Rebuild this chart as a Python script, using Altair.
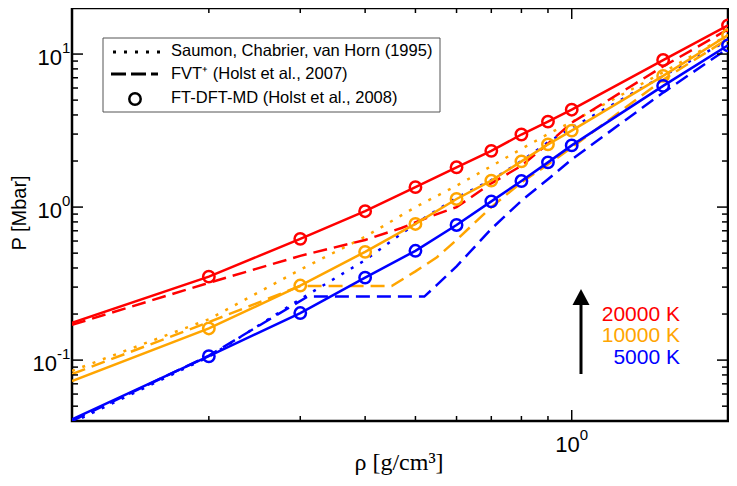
import altair as alt
import pandas as pd

W, H = 656, 413
PAD_L = 64
X_DOMAIN = [0.109, 2.0]
Y_DOMAIN = [0.04, 20.0]

temps = ["20000 K", "10000 K", "5000 K"]
temp_colors = ["#ff0000", "#ffa500", "#0000ff"]

# FT-DFT-MD (open circles joined by solid lines)
rho_dft = [0.2, 0.3, 0.4, 0.5, 0.6, 0.7, 0.8, 0.9, 1.0, 1.5, 2.0]
p_dft_20000 = [0.351, 0.62, 0.94, 1.35, 1.82, 2.33, 2.98, 3.62, 4.33, 9.14, 15.4]
p_dft_10000 = [0.161, 0.307, 0.51, 0.776, 1.13, 1.49, 1.99, 2.57, 3.16, 7.2, 13.3]
p_dft_5000 = [0.106, 0.203, 0.346, 0.518, 0.764, 1.09, 1.48, 1.96, 2.53, 6.2, 11.4]
# solid lines continue to the left edge
rho_left = 0.109
p_left = [0.175, 0.073, 0.041]

# FVT+ (dashed)
rho_fvt_20000 = [0.109, 0.2, 0.3, 0.4, 0.47, 0.53, 0.6, 0.7, 0.8, 0.9, 1.0, 1.5, 2.0]
p_fvt_20000 = [0.17, 0.32, 0.48, 0.61, 0.73, 0.86, 1.0, 1.43, 1.86, 2.6, 3.56, 8.3, 14.5]
rho_fvt_10000 = [0.109, 0.2, 0.3, 0.45, 0.5, 0.55, 0.6, 0.7, 0.8, 0.9, 1.0, 1.5, 2.0]
p_fvt_10000 = [0.081, 0.177, 0.305, 0.305, 0.38, 0.47, 0.61, 1.0, 1.45, 1.9, 2.45, 6.8, 12.6]
rho_fvt_5000 = [0.109, 0.2, 0.31, 0.52, 0.55, 0.6, 0.7, 0.8, 0.9, 1.0, 1.5, 2.0]
p_fvt_5000 = [0.040, 0.107, 0.26, 0.26, 0.31, 0.41, 0.72, 1.1, 1.52, 2.05, 5.6, 10.9]

# Saumon, Chabrier, van Horn (dotted)
rho_scvh = [0.109, 0.2, 0.3, 0.4, 0.5, 0.6, 0.7, 0.8, 0.9, 1.0, 1.5, 2.0]
p_scvh_10000 = [0.085, 0.185, 0.39, 0.64, 1.0, 1.38, 1.85, 2.4, 3.0, 3.6, 7.6, 13.3]
p_scvh_5000 = [0.039, 0.105, 0.25, 0.45, 0.78, 1.15, 1.5, 2.0, 2.65, 3.3, 7.2, 12.3]

# axis ticks
x_minor_ticks = [0.2, 0.3, 0.4, 0.5, 0.6, 0.7, 0.8, 0.9]
x_major_ticks = [1.0]
y_minor_ticks = [0.05, 0.06, 0.07, 0.08, 0.09, 0.2, 0.3, 0.4, 0.5, 0.6, 0.7, 0.8, 0.9,
                 2, 3, 4, 5, 6, 7, 8, 9]
y_major_ticks = [0.1, 1.0, 10.0]

legend_labels = ["Saumon, Chabrier, van Horn (1995)",
                 "FVT\u207a (Holst et al., 2007)",
                 "FT-DFT-MD (Holst et al., 2008)"]

FONT = "Liberation Sans"


def frame(rhos, ps, t):
    return pd.DataFrame({"rho": rhos, "P": ps, "T": t})


dft_df = pd.concat([frame(rho_dft, p_dft_20000, temps[0]),
                    frame(rho_dft, p_dft_10000, temps[1]),
                    frame(rho_dft, p_dft_5000, temps[2])], ignore_index=True)
solid_df = pd.concat([dft_df] + [frame([rho_left], [p], t) for p, t in zip(p_left, temps)],
                     ignore_index=True)
fvt_df = pd.concat([frame(rho_fvt_20000, p_fvt_20000, temps[0]),
                    frame(rho_fvt_10000, p_fvt_10000, temps[1]),
                    frame(rho_fvt_5000, p_fvt_5000, temps[2])], ignore_index=True)
scvh_df = pd.concat([frame(rho_scvh, p_scvh_10000, temps[1]),
                     frame(rho_scvh, p_scvh_5000, temps[2])], ignore_index=True)

xs = alt.Scale(type="log", domain=X_DOMAIN, nice=False)
ys = alt.Scale(type="log", domain=Y_DOMAIN, nice=False)
X = alt.X("rho:Q", scale=xs, axis=None)
Y = alt.Y("P:Q", scale=ys, axis=None)
color = alt.Color("T:N", scale=alt.Scale(domain=temps, range=temp_colors), legend=None)


def px(page_x):
    """page x coordinate -> plot-relative pixel"""
    return page_x - 8 - PAD_L


def lines(df, **kw):
    return alt.Chart(df).mark_line(strokeWidth=2.5, clip=True, strokeCap="butt", **kw).encode(
        x=X, y=Y, color=color, detail="T:N", order="rho:Q")


dotted = lines(scvh_df, strokeDash=[3, 8])
dashed = lines(fvt_df, strokeDash=[14, 7])
solid = lines(solid_df)
circles = alt.Chart(dft_df).mark_point(shape="circle", filled=False, size=130,
                                       strokeWidth=2.5, clip=True, opacity=1).encode(
    x=X, y=Y, color=color)


# inward ticks on all four sides
def xticks(vals, L):
    base = alt.Chart(pd.DataFrame({"rho": vals})).mark_rule(color="black", strokeWidth=1.5)
    return (base.encode(x=X, y=alt.value(H), y2=alt.value(H - L)) +
            base.encode(x=X, y=alt.value(0), y2=alt.value(L)))


def yticks(vals, L):
    base = alt.Chart(pd.DataFrame({"P": vals})).mark_rule(color="black", strokeWidth=1.5)
    return (base.encode(y=Y, x=alt.value(0), x2=alt.value(L)) +
            base.encode(y=Y, x=alt.value(W), x2=alt.value(W - L)))


ticks = xticks(x_minor_ticks, 5) + xticks(x_major_ticks, 11) + \
    yticks(y_minor_ticks, 6) + yticks(y_major_ticks, 11)

# tick labels (10 with superscript exponent)
xlab_df = pd.DataFrame({"rho": [1.0], "b": ["10"], "e": ["0"]})
xlab = alt.Chart(xlab_df).mark_text(align="right", baseline="middle", fontSize=22, dx=8,
                                    font=FONT, color="black").encode(
    x=X, y=alt.value(H + 24), text="b:N")
xexp = alt.Chart(xlab_df).mark_text(align="left", baseline="middle", fontSize=15, dx=8,
                                    font=FONT, color="black").encode(
    x=X, y=alt.value(H + 14), text="e:N")

ylab_df1 = pd.DataFrame({"P": [10.0, 1.0], "b": ["10", "10"], "e": ["1", "0"]})
ylab_df2 = pd.DataFrame({"P": [0.1], "b": ["10"], "e": ["-1"]})


def ylabels(df, xr):
    b = alt.Chart(df).mark_text(align="right", baseline="middle", fontSize=22, dy=4,
                                font=FONT, color="black").encode(
        y=Y, x=alt.value(xr), text="b:N")
    e = alt.Chart(df).mark_text(align="left", baseline="middle", fontSize=15, dy=-6,
                                font=FONT, color="black").encode(
        y=Y, x=alt.value(xr), text="e:N")
    return b + e


ylabs = ylabels(ylab_df1, px(62)) + ylabels(ylab_df2, px(57))

ytitle = alt.Chart(pd.DataFrame({"t": ["P [Mbar]"]})).mark_text(
    angle=270, fontSize=20, font=FONT, color="black", baseline="middle", align="center").encode(
    x=alt.value(px(20)), y=alt.value(205), text="t:N")
xtitle = alt.Chart(pd.DataFrame({"t": ["\u03c1 [g/cm\u00b3]"]})).mark_text(
    fontSize=24, font="Liberation Serif", color="black", baseline="middle", align="center").encode(
    x=alt.value(px(399)), y=alt.value(455), text="t:N")

# temperature labels and arrow
temp_df = pd.DataFrame({"T": temps, "yp": [306.5, 328, 349.5]})
temp_text = alt.Chart(temp_df).mark_text(align="right", baseline="middle", fontSize=21,
                                         font=FONT).encode(
    x=alt.value(px(680)), y=alt.Y("yp:Q", scale=None), text="T:N", color=color)
arrow_line = alt.Chart(pd.DataFrame({"a": [0]})).mark_rule(color="black", strokeWidth=3).encode(
    x=alt.value(px(581)), y=alt.value(366), y2=alt.value(294))
arrow_head = alt.Chart(pd.DataFrame({"a": [0]})).mark_point(
    shape="M0,-1L1.06,1L-1.06,1Z", filled=True, color="black", size=256, opacity=1).encode(
    x=alt.value(px(581)), y=alt.value(289))

# legend
one = pd.DataFrame({"a": [0]})
leg_box = alt.Chart(one).mark_rect(fill="white", stroke="#555555", strokeWidth=1).encode(
    x=alt.value(px(103)), x2=alt.value(px(440)), y=alt.value(30), y2=alt.value(104))
leg_dot = alt.Chart(one).mark_rule(color="black", strokeWidth=3, strokeDash=[3, 8]).encode(
    x=alt.value(px(113)), x2=alt.value(px(160)), y=alt.value(44))
leg_dash = alt.Chart(one).mark_rule(color="black", strokeWidth=3, strokeDash=[15, 5]).encode(
    x=alt.value(px(111)), x2=alt.value(px(158)), y=alt.value(66))
leg_circ = alt.Chart(one).mark_point(shape="circle", filled=False, size=130, strokeWidth=2.5,
                                     color="black", opacity=1).encode(
    x=alt.value(px(135)), y=alt.value(91))
leg_text_df = pd.DataFrame({"t": legend_labels, "yp": [43, 66, 90]})
leg_text = alt.Chart(leg_text_df).mark_text(align="left", baseline="middle", fontSize=16.5,
                                            font=FONT, color="black").encode(
    x=alt.value(px(171)), y=alt.Y("yp:Q", scale=None), text="t:N")

chart = alt.layer(
    dotted, dashed, solid, circles, ticks,
    xlab, xexp, ylabs, ytitle, xtitle,
    temp_text, arrow_line, arrow_head,
    leg_box, leg_dot, leg_dash, leg_circ, leg_text,
).properties(
    width=W, height=H,
    padding={"left": PAD_L, "top": 0, "right": 1, "bottom": 57},
    autosize=alt.AutoSizeParams(type="none"),
).configure(background="white").configure_view(stroke="black", strokeWidth=2.5)

chart.save("out.html", embed_options={"renderer": "svg", "actions": False})
